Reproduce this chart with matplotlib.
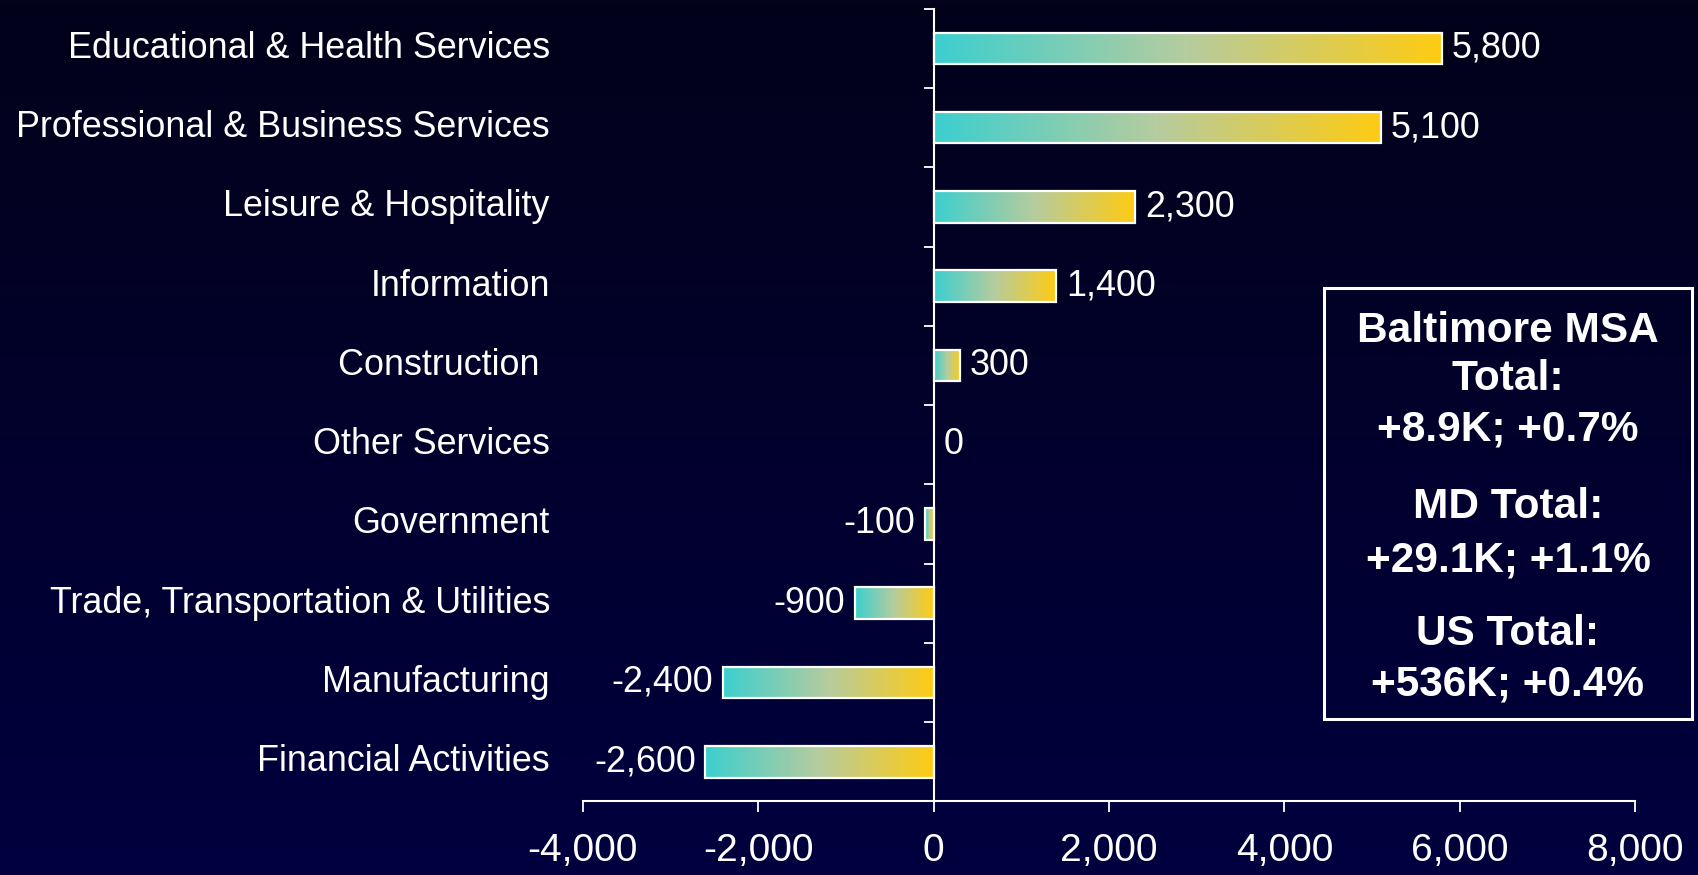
import numpy as np
import matplotlib
matplotlib.use('Agg')
import matplotlib.pyplot as plt
import matplotlib.transforms as mtransforms
from matplotlib.colors import LinearSegmentedColormap
from matplotlib.ticker import FuncFormatter
from matplotlib.patches import Rectangle

plt.rcParams['font.family'] = ['Liberation Sans', 'DejaVu Sans']

categories = ["Educational & Health Services", "Professional & Business Services",
              "Leisure & Hospitality", "Information", "Construction ",
              "Other Services", "Government", "Trade, Transportation & Utilities",
              "Manufacturing", "Financial Activities"]
values = [5800, 5100, 2300, 1400, 300, 0, -100, -900, -2400, -2600]
xticks = [-4000, -2000, 0, 2000, 4000, 6000, 8000]

box_lines = ["Baltimore MSA", "Total:", "+8.9K; +0.7%",
             "MD Total:", "+29.1K; +1.1%",
             "US Total:", "+536K; +0.4%"]

bar_cmap = LinearSegmentedColormap.from_list('bar', ['#3ccfcf', '#b6cc9e', '#ffcb12'])
bg_cmap = LinearSegmentedColormap.from_list('bg', ['#03021a', '#00003f'])

fig = plt.figure(figsize=(16.98, 8.75), dpi=100)

# background gradient
bg = fig.add_axes([0, 0, 1, 1], zorder=-1)
bg.imshow(np.linspace(0, 1, 256).reshape(-1, 1), cmap=bg_cmap, aspect='auto',
          extent=[0, 1, 0, 1], origin='upper')
bg.axis('off')

ax = fig.add_axes([0.3431, 0.0842, 0.6200, 0.9058])
ax.set_facecolor('none')

y = np.arange(len(categories))
bars = ax.barh(y, values, height=0.4, facecolor='none', edgecolor='white',
               linewidth=1.6, zorder=3)
grad = np.linspace(0, 1, 256).reshape(1, -1)
for b, v in zip(bars, values):
    if v == 0:
        b.set_visible(False)
        continue
    x0, w = b.get_x(), b.get_width()
    x1 = x0 + w
    im = ax.imshow(grad, cmap=bar_cmap, aspect='auto', zorder=2,
                   extent=[min(x0, x1), max(x0, x1), b.get_y(), b.get_y() + b.get_height()])
    im.set_clip_path(b)

for yi, v in zip(y, values):
    if v < 0:
        ax.annotate(f"{v:,}", (v, yi), xytext=(-7, 0), textcoords='offset points',
                    ha='right', va='center', color='white', fontsize=25.8)
    else:
        ax.annotate(f"{v:,}", (v, yi), xytext=(7, 0), textcoords='offset points',
                    ha='left', va='center', color='white', fontsize=25.8)

trans = mtransforms.blended_transform_factory(ax.transAxes, ax.transData)
for yi, c in zip(y, categories):
    ax.text(-0.031, yi, c, transform=trans, ha='right', va='center',
            color='white', fontsize=25.8)

ax.set_xlim(-4000, 8000)
ax.set_ylim(len(categories) - 0.5, -0.5)
ax.set_yticks(np.arange(-0.5, len(categories), 1))
ax.set_yticklabels([])
ax.set_xticks(xticks)
ax.xaxis.set_major_formatter(FuncFormatter(lambda v, p: f"{int(v):,}"))

ax.spines['left'].set_position(('data', 0))
ax.spines['top'].set_visible(False)
ax.spines['right'].set_visible(False)
for s in ['left', 'bottom']:
    ax.spines[s].set_color('white')
    ax.spines[s].set_linewidth(1.5)
ax.tick_params(axis='y', direction='out', length=7.5, width=1.3, color='white')
ax.tick_params(axis='x', direction='out', length=8, width=1.3, color='white',
               labelcolor='white', labelsize=28, pad=15)

# summary box
fig.patches.append(Rectangle((0.7800, 0.1783), 0.2162, 0.4926, transform=fig.transFigure,
                             facecolor='none', edgecolor='white', linewidth=2.2))
line_y = [0.6217, 0.5669, 0.5097, 0.4206, 0.3600, 0.2755, 0.2172]
for t, ly in zip(box_lines, line_y):
    fig.text(0.8881, ly, t, ha='center', va='center', color='white',
             fontsize=30.5, fontweight='bold')

fig.savefig('out.png', dpi=100)
